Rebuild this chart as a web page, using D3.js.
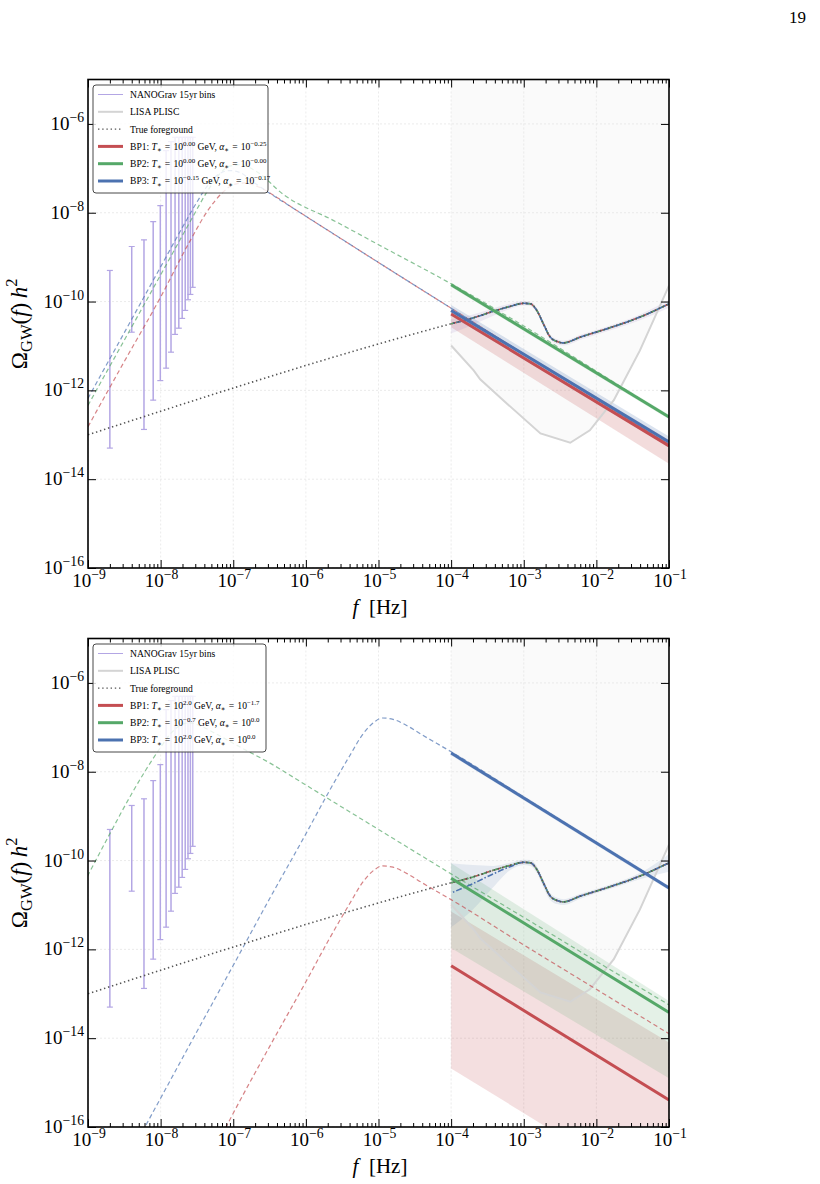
<!DOCTYPE html>
<html>
<head>
<meta charset="utf-8">
<script src="https://cdn.jsdelivr.net/npm/d3@7"></script>
<style>
  body { margin: 0; background: #fff; }
  text { font-family: "Liberation Serif", "DejaVu Serif", serif; fill: #000; }
</style>
</head>
<body>
<div id="chart-container"></div>
<script>
/**************************************************
 * Data (frequencies in Hz, spectra as log10 values)
 **************************************************/

// NANOGrav 15yr frequency bins and error bar ends (log10 Omega h^2)
const nanoFreq = [2.0e-9, 4.0e-9, 5.9e-9, 7.9e-9, 9.9e-9, 1.19e-8, 1.39e-8, 1.58e-8, 1.78e-8, 1.98e-8, 2.18e-8, 2.38e-8, 2.57e-8, 2.77e-8];
const nanoLo = [-13.3, -10.69, -12.88, -12.22, -11.78, -11.5, -11.14, -10.74, -10.6, -10.38, -10.2, -9.96, -9.84, -9.68];
const nanoHi = [-9.3, -8.76, -8.61, -8.2, -7.84, -6.6, -6.4, -6.3, -6.3, -6.3, -6.3, -6.3, -6.3, -6.3];

// LISA PLISC curve (log10 f, log10 Omega)
const lisaF = [-4.0, -3.69, -3.6, -3.23, -2.77, -2.36, -2.09, -1.76, -1.40, -1.0];
const lisaOmega = [-10.99, -11.55, -11.75, -12.30, -12.97, -13.18, -12.90, -12.22, -11.10, -9.64];

// True foreground
const fgF = [-9.0, -4.0, -3.7, -3.42, -3.19, -3.0, -2.91, -2.82, -2.73, -2.64, -2.54, -2.45, -2.22, -1.85, -1.40, -1.0];
const fgOmega = [-13.0, -10.5, -10.37, -10.22, -10.11, -10.04, -10.05, -10.20, -10.50, -10.79, -10.90, -10.93, -10.80, -10.61, -10.35, -10.05];

// LISA-band foreground reconstruction (same frequency grid, f >= 1e-4)
const fgLisaF = [-4.0, -3.7, -3.42, -3.19, -3.0, -2.91, -2.82, -2.73, -2.64, -2.54, -2.45, -2.22, -1.85, -1.40, -1.0];
const fgLisaOmega = [-10.5, -10.37, -10.22, -10.11, -10.04, -10.05, -10.20, -10.50, -10.79, -10.90, -10.93, -10.80, -10.61, -10.35, -10.05];
const topFgBandHi = [-10.40, -10.29, -10.15, -10.05, -9.99, -10.00, -10.14, -10.44, -10.73, -10.85, -10.88, -10.75, -10.56, -10.29, -9.96];
const topFgBandLo = [-10.72, -10.52, -10.32, -10.17, -10.09, -10.10, -10.26, -10.56, -10.85, -10.96, -10.99, -10.86, -10.67, -10.42, -10.14];
const botFgBandHi = [-10.06, -10.10, -10.12, -10.05, -9.98, -9.99, -10.12, -10.42, -10.72, -10.84, -10.87, -10.75, -10.56, -10.28, -9.85];
const botFgBandLo = [-11.50, -11.10, -10.60, -10.22, -10.10, -10.12, -10.28, -10.60, -10.88, -10.98, -11.00, -10.86, -10.66, -10.42, -10.25];
const botRecoBlue = [-10.73, -10.52, -10.30, -10.14, -10.04, -10.05, -10.20, -10.50, -10.79, -10.90, -10.93, -10.80, -10.61, -10.35, -10.05];

// Panel 1 benchmark spectra (dashed)
const topRedF = [-9.05, -9, -8.5, -8, -7.6, -7.35, -7.15, -7.0, -6.85, -6.65, -6.45, -6.2, -6, -5, -4, -3, -2, -1];
const topRedOmega = [-12.97, -12.82, -11.35, -9.9, -8.65, -7.95, -7.55, -7.37, -7.33, -7.42, -7.6, -7.87, -8.08, -9.12, -10.15, -11.18, -12.2, -13.22];
const topGreenF = [-9.05, -9, -8.5, -8, -7.6, -7.35, -7.2, -7.05, -6.9, -6.7, -6.3, -5.6, -5, -4, -3, -2, -1];
const topGreenOmega = [-12.49, -12.34, -10.87, -9.4, -8.22, -7.5, -7.15, -6.95, -6.92, -7.05, -7.6, -8.19, -8.72, -9.6, -10.55, -11.57, -12.6];
const topBlueF = [-9.05, -9, -8.5, -8, -7.7, -7.5, -7.35, -7.2, -7.05, -6.9, -6.75, -6.5, -6.25, -6, -5, -4, -3, -2, -1];
const topBlueOmega = [-12.33, -12.18, -10.7, -9.22, -8.33, -7.76, -7.38, -7.13, -7.05, -7.1, -7.28, -7.56, -7.82, -8.08, -9.12, -10.15, -11.18, -12.2, -13.22];

// Panel 1 LISA fits (at f = 1e-4 and 1e-1)
const fitF = [-4, -1];
const topRedFit = [-10.28, -13.25], topRedLo = [-10.58, -13.65], topRedHi = [-10.18, -13.12];
const topGreenFit = [-9.62, -12.60], topGreenLo = [-9.67, -12.65], topGreenHi = [-9.57, -12.55];
const topBlueFit = [-10.20, -13.16], topBlueLo = [-10.32, -13.28], topBlueHi = [-10.08, -13.04];

// Panel 2 benchmark spectra (dashed)
const botRedF = [-7.2, -7, -6.5, -6, -5.7, -5.4, -5.2, -5.05, -4.95, -4.8, -4.6, -4.4, -4.2, -4, -3, -2, -1];
const botRedOmega = [-16.32, -15.69, -14.19, -12.73, -11.83, -10.98, -10.45, -10.2, -10.12, -10.15, -10.3, -10.5, -10.69, -10.88, -11.9, -12.9, -13.9];
const botGreenF = [-9.2, -9, -8.7, -8.4, -8.2, -8.0, -7.85, -7.7, -7.6, -7.45, -7.2, -6.9, -6.5, -6, -5, -4, -3, -2, -1];
const botGreenOmega = [-10.95, -10.33, -9.4, -8.5, -7.95, -7.45, -7.12, -6.93, -6.9, -6.97, -7.18, -7.45, -7.8, -8.3, -9.3, -10.3, -11.28, -12.27, -13.25];
const botBlueF = [-8.3, -8, -7.5, -7, -6.5, -6, -5.7, -5.4, -5.2, -5.05, -4.95, -4.8, -4.6, -4.4, -4.2, -4, -3, -2, -1];
const botBlueOmega = [-16.25, -15.35, -13.85, -12.36, -10.86, -9.4, -8.5, -7.65, -7.12, -6.87, -6.79, -6.82, -6.97, -7.17, -7.36, -7.55, -8.57, -9.59, -10.6];

// Panel 2 LISA fits
const botRedFit = [-12.37, -15.39], botRedLo = [-14.68, -17.7], botRedHi = [-11.15, -14.1];
const botGreenFit = [-10.40, -13.42], botGreenLo = [-11.97, -14.9], botGreenHi = [-10.06, -13.16];
const botBlueFit = [-7.58, -10.62], botBlueLo = [-7.63, -10.67], botBlueHi = [-7.53, -10.57];

// Legend exponents
const topTexp = ["0.00", "0.00", "\u22120.15"];
const topAexp = ["\u22120.25", "\u22120.00", "\u22120.17"];
const botTexp = ["2.0", "\u22120.7", "2.0"];
const botAexp = ["\u22121.7", "0.0", "0.0"];

// Tick labels
const xTickExp = [-9, -8, -7, -6, -5, -4, -3, -2, -1];
const yTickExp = [-16, -14, -12, -10, -8, -6];

const colors = { red: "#c44e52", green: "#55a868", blue: "#4c72b0", nano: "#b3a6e4", lisa: "#d4d4d4", fg: "#555" };

/**************************************************
 * Helpers
 **************************************************/

const P = v => Math.pow(10, v);
const zip = (a, b) => a.map((d, i) => [d, b[i]]);

function rich(sel, parts, size) {
  let shift = 0;
  parts.forEach(([t, k]) => {
    let target = 0, fs = size;
    if (k === "sup") { target = -size * 0.42; fs = size * 0.72; }
    if (k === "sub") { target = size * 0.22; fs = size * 0.72; }
    const ts = sel.append("tspan").text(t)
      .attr("dy", target - shift)
      .attr("font-size", fs);
    if (k === "i") ts.attr("font-style", "italic");
    shift = target;
  });
}

const svg = d3.select("#chart-container")
  .append("svg")
  .attr("width", 820)
  .attr("height", 1184);

svg.append("text")
  .attr("x", 806).attr("y", 23)
  .attr("text-anchor", "end")
  .attr("font-size", 17)
  .text("19");

/**************************************************
 * Panel rendering
 **************************************************/

function renderPanel(cfg) {
  const x0 = 88, x1 = 669, y0 = cfg.top, y1 = cfg.top + 488.5;
  const x = d3.scaleLog().domain([1e-9, 1e-1]).range([x0, x1]);
  const y = d3.scaleLog().domain([1e-16, 1e-5]).range([y1, y0]);
  const line = d3.line().x(d => x(P(d[0]))).y(d => y(P(d[1])));
  const smooth = d3.line().x(d => x(P(d[0]))).y(d => y(P(d[1]))).curve(d3.curveMonotoneX);
  const band = d3.area().x(d => x(P(d[0]))).y0(d => y(P(d[1]))).y1(d => y(P(d[2])));
  const bandSmooth = d3.area().x(d => x(P(d[0]))).y0(d => y(P(d[1]))).y1(d => y(P(d[2]))).curve(d3.curveMonotoneX);

  const g = svg.append("g");
  g.append("clipPath").attr("id", cfg.id + "-clip")
    .append("rect").attr("x", x0).attr("y", y0).attr("width", x1 - x0).attr("height", y1 - y0);
  const plot = g.append("g").attr("clip-path", `url(#${cfg.id}-clip)`);

  // LISA sensitivity region (above PLISC)
  const lisaPts = zip(lisaF, lisaOmega).map(d => [d[0], d[1], -5]);
  plot.append("path")
    .attr("d", band(lisaPts))
    .attr("fill", "#000").attr("fill-opacity", 0.02);

  // grid
  xTickExp.forEach(e => {
    plot.append("line")
      .attr("x1", x(P(e))).attr("x2", x(P(e))).attr("y1", y0).attr("y2", y1)
      .attr("stroke", "#e6e6e6").attr("stroke-width", 0.8).attr("stroke-dasharray", "2,2");
  });
  yTickExp.forEach(e => {
    plot.append("line")
      .attr("x1", x0).attr("x2", x1).attr("y1", y(P(e))).attr("y2", y(P(e)))
      .attr("stroke", "#e6e6e6").attr("stroke-width", 0.8).attr("stroke-dasharray", "2,2");
  });

  // fit uncertainty bands
  cfg.fits.forEach(f => {
    plot.append("path")
      .attr("d", band(fitF.map((v, i) => [v, f.lo[i], f.hi[i]])))
      .attr("fill", f.color).attr("fill-opacity", f.bandAlpha);
  });

  // foreground reconstruction band
  plot.append("path")
    .attr("d", bandSmooth(fgLisaF.map((v, i) => [v, cfg.fgLo[i], cfg.fgHi[i]])))
    .attr("fill", cfg.fgBandColor).attr("fill-opacity", 0.12);

  // LISA PLISC
  plot.append("path")
    .attr("d", line(zip(lisaF, lisaOmega)))
    .attr("fill", "none").attr("stroke", colors.lisa).attr("stroke-width", 2);

  // NANOGrav bins
  nanoFreq.forEach((f, i) => {
    const cx = x(f);
    plot.append("line")
      .attr("x1", cx).attr("x2", cx).attr("y1", y(P(nanoLo[i]))).attr("y2", y(P(nanoHi[i])))
      .attr("stroke", colors.nano).attr("stroke-width", 1.5);
    [nanoLo[i], nanoHi[i]].forEach(v => {
      plot.append("line")
        .attr("x1", cx - 3).attr("x2", cx + 3).attr("y1", y(P(v))).attr("y2", y(P(v)))
        .attr("stroke", colors.nano).attr("stroke-width", 1.2);
    });
  });

  // model spectra (dashed)
  cfg.models.forEach(m => {
    plot.append("path")
      .attr("d", smooth(zip(m.f, m.v)))
      .attr("fill", "none").attr("stroke", m.color).attr("stroke-width", 1.2)
      .attr("stroke-opacity", 0.7).attr("stroke-dasharray", "4.5,3");
  });

  // reconstructed foregrounds (dash-dot)
  cfg.recoFg.forEach(r => {
    plot.append("path")
      .attr("d", smooth(zip(fgLisaF, r.v)))
      .attr("fill", "none").attr("stroke", r.color).attr("stroke-width", 1.6)
      .attr("stroke-dasharray", "6,2,1.5,2").attr("stroke-dashoffset", r.offset);
  });

  // true foreground
  plot.append("path")
    .attr("d", smooth(zip(fgF, fgOmega)))
    .attr("fill", "none").attr("stroke", colors.fg).attr("stroke-width", 1.6)
    .attr("stroke-dasharray", "1.4,2.8");

  // LISA fits (solid)
  cfg.fits.forEach(f => {
    plot.append("path")
      .attr("d", line(zip(fitF, f.fit)))
      .attr("fill", "none").attr("stroke", f.color).attr("stroke-width", 3);
  });

  // axes
  const majorX = xTickExp.map(P);
  const minorX = [];
  for (let d = -9; d < -1; d++) for (let k = 2; k <= 9; k++) minorX.push(k * P(d));
  const majorY = yTickExp.map(P);

  const styleAxis = a => { a.select(".domain").remove(); a.selectAll(".tick line").attr("stroke", "#000").attr("stroke-width", 1); };

  g.append("g").attr("transform", `translate(0,${y1})`)
    .call(d3.axisBottom(x).tickValues(majorX).tickSize(-8).tickFormat("")).call(styleAxis);
  g.append("g").attr("transform", `translate(0,${y1})`)
    .call(d3.axisBottom(x).tickValues(minorX).tickSize(-4).tickFormat("")).call(styleAxis);
  g.append("g").attr("transform", `translate(0,${y0})`)
    .call(d3.axisTop(x).tickValues(majorX).tickSize(-8).tickFormat("")).call(styleAxis);
  g.append("g").attr("transform", `translate(0,${y0})`)
    .call(d3.axisTop(x).tickValues(minorX).tickSize(-4).tickFormat("")).call(styleAxis);
  g.append("g").attr("transform", `translate(${x0},0)`)
    .call(d3.axisLeft(y).tickValues(majorY).tickSize(-8).tickFormat("")).call(styleAxis);
  g.append("g").attr("transform", `translate(${x1},0)`)
    .call(d3.axisRight(y).tickValues(majorY).tickSize(-8).tickFormat("")).call(styleAxis);

  g.append("rect")
    .attr("x", x0).attr("y", y0).attr("width", x1 - x0).attr("height", y1 - y0)
    .attr("fill", "none").attr("stroke", "#000").attr("stroke-width", 1.6);

  // tick labels
  xTickExp.forEach(e => {
    const t = g.append("text")
      .attr("x", x(P(e)) + 1).attr("y", y1 + 19)
      .attr("text-anchor", "middle");
    rich(t, [["10", ""], ["\u2212" + Math.abs(e), "sup"]], 19);
  });
  yTickExp.forEach(e => {
    const t = g.append("text")
      .attr("x", x0 - 4).attr("y", y(P(e)) + 6)
      .attr("text-anchor", "end");
    rich(t, [["10", ""], ["\u2212" + Math.abs(e), "sup"]], 19);
  });

  // axis labels
  const xl = g.append("text")
    .attr("x", 380).attr("y", y1 + 46)
    .attr("text-anchor", "middle");
  rich(xl, [["f", "i"], ["\u2002[Hz]", ""]], 21);

  const yl = g.append("text")
    .attr("transform", `translate(27,${(y0 + y1) / 2}) rotate(-90)`)
    .attr("text-anchor", "middle");
  rich(yl, [["\u03A9", ""], ["GW", "sub"], ["(", ""], ["f", "i"], [")", ""], ["\u2009", ""], ["h", "i"], ["2", "sup"]], 23);

  // legend
  const lx = 93, ly = y0 + 5.5, lw = cfg.legendW, lh = 108, fs = 9.6, row = 17.3;
  const leg = g.append("g");
  leg.append("rect")
    .attr("x", lx).attr("y", ly).attr("width", lw).attr("height", lh).attr("rx", 3)
    .attr("fill", "#fff").attr("fill-opacity", 0.82)
    .attr("stroke", "#333").attr("stroke-width", 0.9);
  const entries = [
    { stroke: colors.nano, w: 1, dash: null, parts: [["NANOGrav 15yr bins", ""]] },
    { stroke: colors.lisa, w: 2, dash: null, parts: [["LISA PLISC", ""]] },
    { stroke: colors.fg, w: 1.4, dash: "1.4,2.8", parts: [["True foreground", ""]] }
  ];
  [colors.red, colors.green, colors.blue].forEach((c, i) => {
    entries.push({
      stroke: c, w: 3, dash: null,
      parts: [["BP" + (i + 1) + ": ", ""], ["T", "i"], ["\u2217", "sub"], ["\u2004=\u200410", ""], [cfg.texp[i], "sup"],
              [" GeV, ", ""], ["\u03B1", "i"], ["\u2217", "sub"], ["\u2004=\u200410", ""], [cfg.aexp[i], "sup"]]
    });
  });
  entries.forEach((e, i) => {
    const cy = ly + 9.5 + i * row;
    const l = leg.append("line")
      .attr("x1", lx + 5).attr("x2", lx + 30).attr("y1", cy).attr("y2", cy)
      .attr("stroke", e.stroke).attr("stroke-width", e.w);
    if (e.dash) l.attr("stroke-dasharray", e.dash);
    const t = leg.append("text").attr("x", lx + 37).attr("y", cy + 3.4);
    rich(t, e.parts, fs);
  });
}

renderPanel({
  id: "p1", top: 79.5, legendW: 175, texp: topTexp, aexp: topAexp,
  fgLo: topFgBandLo, fgHi: topFgBandHi, fgBandColor: "#8a6fc0",
  models: [
    { f: topGreenF, v: topGreenOmega, color: colors.green },
    { f: topRedF, v: topRedOmega, color: colors.red },
    { f: topBlueF, v: topBlueOmega, color: colors.blue }
  ],
  recoFg: [
    { v: fgLisaOmega, color: colors.red, offset: 0 },
    { v: fgLisaOmega, color: colors.green, offset: 3 },
    { v: fgLisaOmega, color: colors.blue, offset: 6 }
  ],
  fits: [
    { fit: topRedFit, lo: topRedLo, hi: topRedHi, color: colors.red, bandAlpha: 0.2 },
    { fit: topBlueFit, lo: topBlueLo, hi: topBlueHi, color: colors.blue, bandAlpha: 0.2 },
    { fit: topGreenFit, lo: topGreenLo, hi: topGreenHi, color: colors.green, bandAlpha: 0.15 }
  ]
});

renderPanel({
  id: "p2", top: 638.5, legendW: 173, texp: botTexp, aexp: botAexp,
  fgLo: botFgBandLo, fgHi: botFgBandHi, fgBandColor: colors.blue,
  models: [
    { f: botGreenF, v: botGreenOmega, color: colors.green },
    { f: botRedF, v: botRedOmega, color: colors.red },
    { f: botBlueF, v: botBlueOmega, color: colors.blue }
  ],
  recoFg: [
    { v: fgLisaOmega, color: colors.red, offset: 0 },
    { v: fgLisaOmega, color: colors.green, offset: 3 },
    { v: botRecoBlue, color: colors.blue, offset: 6 }
  ],
  fits: [
    { fit: botRedFit, lo: botRedLo, hi: botRedHi, color: colors.red, bandAlpha: 0.18 },
    { fit: botGreenFit, lo: botGreenLo, hi: botGreenHi, color: colors.green, bandAlpha: 0.16 },
    { fit: botBlueFit, lo: botBlueLo, hi: botBlueHi, color: colors.blue, bandAlpha: 0.15 }
  ]
});
</script>
</body>
</html>
